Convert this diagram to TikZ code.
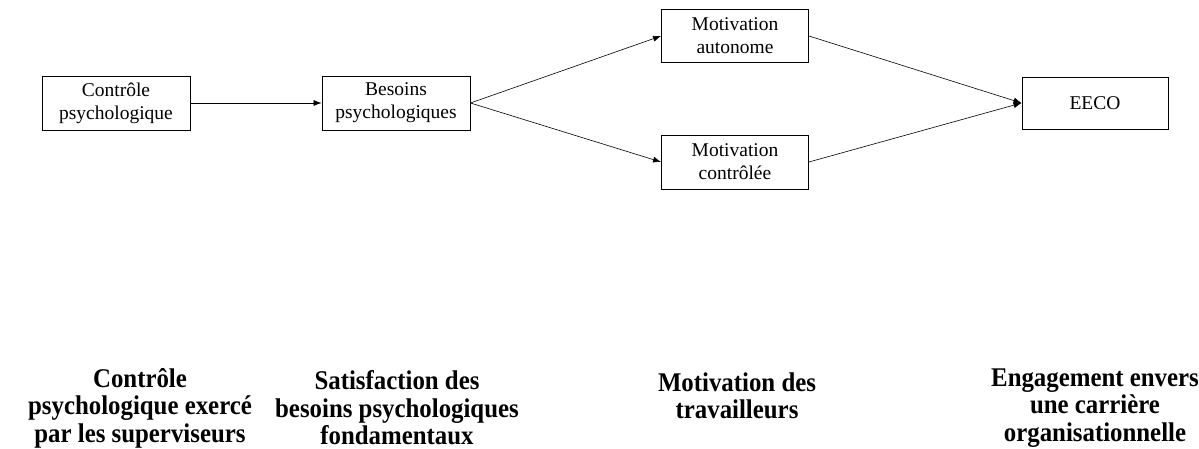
\documentclass[tikz,border=0pt]{standalone}
\usepackage{fontspec}
\usetikzlibrary{arrows.meta}
\setmainfont{Liberation Serif}
\newfontfamily\levelfont{Liberation Serif}[FakeStretch=0.92]
\begin{document}
\begin{tikzpicture}[>={Latex[length=8pt,width=6pt]},x=1pt,y=-1pt,
  var/.style={draw,line width=0.9pt,minimum width=148pt,minimum height=54pt,inner sep=1pt,
    align=center,font=\fontsize{19.5}{23}\selectfont},
  level/.style={align=center,inner sep=0pt,font=\levelfont\fontsize{27}{27.5}\selectfont\bfseries},
  path/.style={->,line width=0.6pt}]
  \useasboundingbox (0,0) rectangle (1199,449);
  % variables du modele
  \node[var] (ctrl) at (116,103) {Contrôle\\psychologique};
  \node[var] (bes) at (396,103) {Besoins\\psychologiques};
  \node[var,minimum width=147pt,minimum height=53pt] (auto) at (735,36) {Motivation\\autonome};
  \node[var,minimum width=147pt,minimum height=54pt] (ctrlee) at (735,162) {Motivation\\contrôlée};
  \node[var,minimum width=146pt,minimum height=52pt] (eeco) at (1095,103) {EECO};
  \draw[path] (ctrl)--(bes);
  \draw[path] (bes.east)--(auto.west);
  \draw[path] (bes.east)--(ctrlee.west);
  \draw[path] (auto.east)--(eeco.west);
  \draw[path] (ctrlee.east)--(eeco.west);
  % niveaux
  \node[level] (niv1) at (140,408) {Contrôle\\psychologique exercé\\par les superviseurs};
  \node[level] (niv2) at (397,408) {Satisfaction des\\besoins psychologiques\\fondamentaux};
  \node[level] (niv3) at (737,396) {Motivation des\\travailleurs};
  \node[level] (niv4) at (1095,408) {Engagement envers\\une carrière\\organisationnelle};
\end{tikzpicture}
\end{document}
